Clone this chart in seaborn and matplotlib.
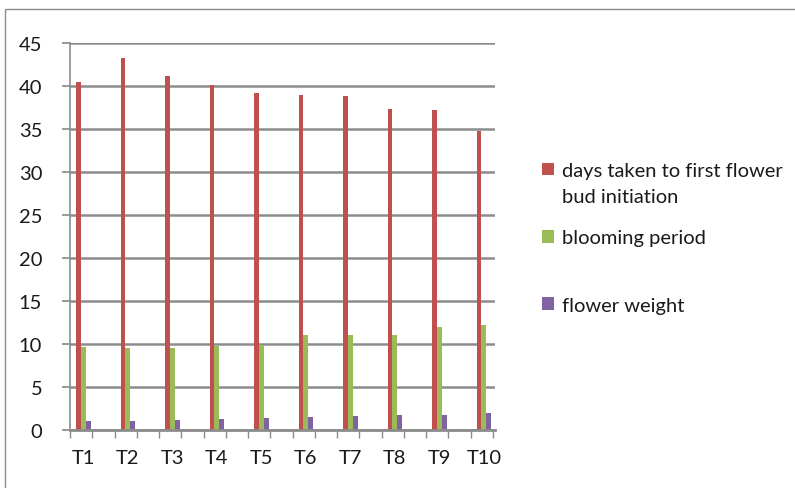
import matplotlib
matplotlib.use("Agg")
import matplotlib.pyplot as plt
from matplotlib.patches import Rectangle
from matplotlib.ticker import MultipleLocator
import seaborn as sns
import pandas as pd

categories = ["T1", "T2", "T3", "T4", "T5", "T6", "T7", "T8", "T9", "T10"]
days_to_bud = [40.5, 43.2, 41.2, 40.1, 39.2, 39.0, 38.8, 37.3, 37.2, 34.8]
blooming_period = [9.6, 9.5, 9.5, 9.8, 9.9, 11.0, 11.1, 11.1, 12.0, 12.2]
flower_weight = [1.0, 1.1, 1.2, 1.3, 1.4, 1.5, 1.6, 1.7, 1.8, 2.0]
series_names = ["days taken to first flower", "blooming period", "flower weight"]
series_name_cont = "bud initiation"
colors = ["#C0504D", "#9BBB59", "#8064A2"]

df = pd.DataFrame({
    "cat": categories * 3,
    "val": days_to_bud + blooming_period + flower_weight,
    "series": [series_names[0]] * 10 + [series_names[1]] * 10 + [series_names[2]] * 10,
})

sns.set_theme(style="white")
plt.rcParams["font.family"] = ["Lato", "DejaVu Sans"]
FS = 14.5
TXT = "#1A1A1A"

fig = plt.figure(figsize=(7.95, 4.89), dpi=100)
ax = fig.add_axes([70 / 795, 1 - 431 / 489, 425 / 795, 387 / 489])

sns.barplot(data=df, x="cat", y="val", hue="series", palette=colors,
            width=0.33, ax=ax, saturation=1, legend=True, errorbar=None,
            edgecolor="none", linewidth=0)

ax.set_xlim(-0.3, 9.25)
ax.set_ylim(0, 45)
ax.set_yticks(range(0, 46, 5))
ax.xaxis.set_minor_locator(MultipleLocator(0.5, offset=0.2))
ax.set_xlabel("")
ax.set_ylabel("")
ax.yaxis.grid(True, color="#8C8C8C", linewidth=1.8)
ax.set_axisbelow(True)
for side in ["top", "right"]:
    ax.spines[side].set_visible(False)
ax.spines["left"].set_color("#8C8C8C")
ax.spines["left"].set_linewidth(1.2)
ax.spines["bottom"].set_color("#8C8C8C")
ax.spines["bottom"].set_linewidth(2.0)
ax.tick_params(axis="y", left=True, length=6, color="#8C8C8C", labelsize=FS, pad=14, labelcolor=TXT)
ax.tick_params(axis="x", which="major", bottom=False, labelsize=FS, pad=8, labelcolor=TXT)
ax.tick_params(axis="x", which="minor", bottom=True, length=6, width=1.0, color="#8C8C8C")

handles, labels = ax.get_legend_handles_labels()
leg = ax.legend(handles, labels, loc="upper left", bbox_to_anchor=(542 / 795, 1 - 163 / 489),
                bbox_transform=fig.transFigure, frameon=False, fontsize=FS, labelcolor=TXT,
                handlelength=0.6, handleheight=0.6, handletextpad=0.4, labelspacing=2.5,
                borderaxespad=0, borderpad=0)
ax.annotate(series_name_cont, xy=(0, 0), xycoords=leg.get_texts()[0],
            xytext=(0, -26 * 0.72), textcoords="offset points",
            ha="left", va="bottom", fontsize=FS, color=TXT,
            zorder=10, annotation_clip=False)

fig.patches.append(Rectangle((5 / 795, -0.1), 1.0, 1 - 10 / 489 + 0.1, transform=fig.transFigure,
                             fill=False, edgecolor="#8C8C8C", linewidth=1.0))

fig.savefig("out.png", dpi=100)
